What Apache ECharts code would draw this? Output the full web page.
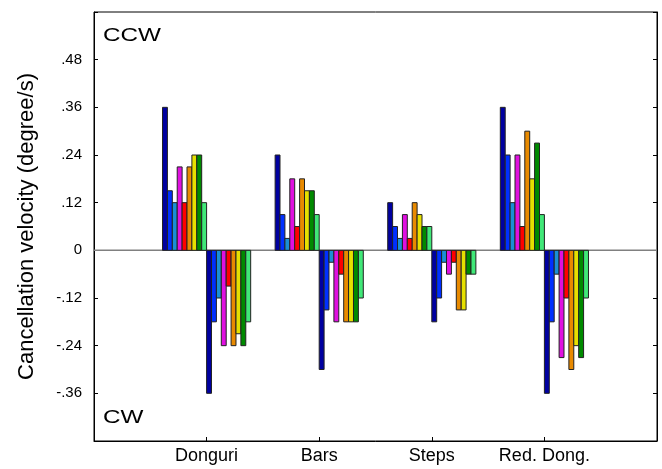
<!DOCTYPE html>
<html>
<head>
<meta charset="utf-8">
<script src="https://cdn.jsdelivr.net/npm/echarts@6/dist/echarts.min.js"></script>
<style>html,body{margin:0;padding:0;background:#fff;}#c{width:662px;height:469px;}</style>
</head>
<body>
<div id="c"></div>
<script>
const categories = ['Donguri', 'Bars', 'Steps', 'Red. Dong.'];
const conditionColors = ['#0000a0', '#0030ff', '#1a8fd6', '#e010e0', '#ff0000', '#e88a00', '#e6e000', '#008a00', '#40e878'];
// CCW (positive) and CW (negative) values, 9 conditions each
const donguriCCW = [0.36, 0.15, 0.12, 0.21, 0.12, 0.21, 0.24, 0.24, 0.12];
const donguriCW  = [-0.36, -0.18, -0.12, -0.24, -0.09, -0.24, -0.21, -0.24, -0.18];
const barsCCW    = [0.24, 0.09, 0.03, 0.18, 0.06, 0.18, 0.15, 0.15, 0.09];
const barsCW     = [-0.30, -0.15, -0.03, -0.18, -0.06, -0.18, -0.18, -0.18, -0.12];
const stepsCCW   = [0.12, 0.06, 0.03, 0.09, 0.03, 0.12, 0.09, 0.06, 0.06];
const stepsCW    = [-0.18, -0.12, -0.03, -0.06, -0.03, -0.15, -0.15, -0.06, -0.06];
const redDongCCW = [0.36, 0.24, 0.12, 0.24, 0.06, 0.30, 0.18, 0.27, 0.09];
const redDongCW  = [-0.36, -0.18, -0.06, -0.27, -0.12, -0.30, -0.24, -0.27, -0.12];
const yTicks = [-0.48, -0.36, -0.24, -0.12, 0, 0.12, 0.24, 0.36, 0.48, 0.6];

const groups = [[donguriCCW, donguriCW], [barsCCW, barsCW], [stepsCCW, stepsCW], [redDongCCW, redDongCW]];
const data = [];
groups.forEach((g, ci) => {
  g.forEach((vals, side) => {
    vals.forEach((v, k) => data.push([ci + 1, v, k, side]));
  });
});
const BW = 0.0435;

function fmtY(v) {
  if (Math.abs(v - 0.6) < 1e-6 || Math.abs(v + 0.48) < 1e-6) return '';
  if (Math.abs(v) < 1e-9) return '0';
  return (v < 0 ? '-' : '') + Math.abs(v).toFixed(2).replace(/^0/, '');
}

const chart = echarts.init(document.getElementById('c'), null, {renderer: 'canvas'});
const FONT = 'Liberation Sans, Arial, sans-serif';
chart.setOption({
  animation: false,
  grid: {left: 94, right: 5, top: 12, bottom: 28, show: true, borderColor: '#000', borderWidth: 1, backgroundColor: 'transparent'},
  xAxis: {
    type: 'value', min: 0, max: 5, interval: 1,
    axisLine: {onZero: false, lineStyle: {color: '#000'}},
    axisTick: {inside: true, length: 4, lineStyle: {color: '#000'}},
    splitLine: {show: false},
    axisLabel: {margin: 6, color: '#000', fontSize: 18, fontFamily: FONT,
      formatter: v => (v >= 1 && v <= 4) ? categories[v - 1] : ''}
  },
  yAxis: [{
    type: 'value', min: -0.48, max: 0.6, interval: 0.12,
    name: 'Cancellation velocity (degree/s)', nameLocation: 'middle', nameGap: 56,
    nameTextStyle: {color: '#000', fontSize: 22, fontFamily: FONT},
    axisLine: {show: true, lineStyle: {color: '#000'}},
    axisTick: {inside: true, length: 4, lineStyle: {color: '#000'}},
    splitLine: {show: false},
    axisLabel: {margin: 12, color: '#000', fontSize: 15, fontFamily: FONT, formatter: fmtY}
  }, {
    type: 'value', min: -0.48, max: 0.6, interval: 0.12, position: 'right',
    axisLine: {show: true, lineStyle: {color: '#000'}},
    axisTick: {inside: true, length: 4, lineStyle: {color: '#000'}},
    splitLine: {show: false},
    axisLabel: {show: false}
  }],
  graphic: [
    {type: 'text', x: 103, y: 27, scaleX: 1.35, style: {text: 'CCW', fontSize: 18, fontFamily: FONT, fill: '#000'}},
    {type: 'text', x: 103, y: 409, scaleX: 1.35, style: {text: 'CW', fontSize: 18, fontFamily: FONT, fill: '#000'}}
  ],
  series: [{
    type: 'line', data: [[0, 0], [5, 0]], symbol: 'none', silent: true,
    lineStyle: {color: '#808080', width: 1.5}, z: 1
  }, {
    type: 'custom', data: data, z: 3,
    renderItem: function (params, api) {
      const cat = api.value(0), v = api.value(1), k = api.value(2), side = api.value(3);
      const xc = side === 0 ? cat - (9 - k) * BW + BW / 2 : cat + k * BW + BW / 2;
      const top = api.coord([xc, v]);
      const base = api.coord([xc, 0]);
      const w = api.size([BW, 0])[0];
      const y0 = Math.min(top[1], base[1]);
      const h = Math.abs(top[1] - base[1]);
      return {
        type: 'rect',
        shape: {x: top[0] - w / 2, y: y0, width: w, height: h},
        style: {fill: conditionColors[k], stroke: '#222', lineWidth: 1}
      };
    },
    encode: {x: 0, y: 1}
  }]
});
</script>
</body>
</html>
